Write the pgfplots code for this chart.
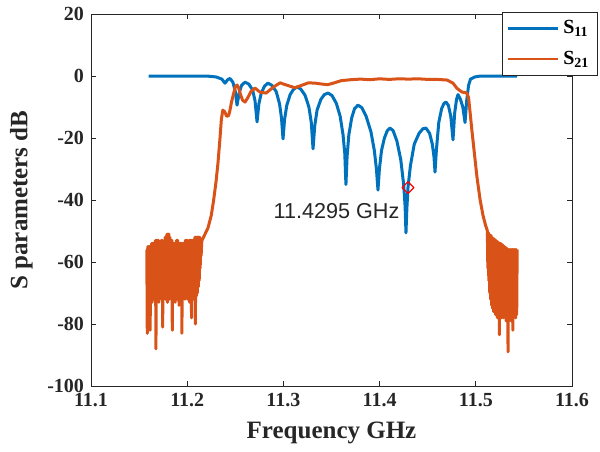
\documentclass[border=0pt]{standalone}
\usepackage{fontspec}
\setmainfont{Liberation Serif}
\newfontfamily\helv{Liberation Sans}
\usepackage{pgfplots}
\pgfplotsset{compat=1.18}
\usetikzlibrary{calc}
\definecolor{mblue}{RGB}{0,114,189}
\definecolor{mred}{RGB}{217,83,25}
\definecolor{axgray}{RGB}{38,38,38}

\begin{document}
\begin{tikzpicture}
\begin{axis}[
  scale only axis,
  width=240.5pt, height=186pt,
  xmin=11.1, xmax=11.6, ymin=-100, ymax=20,
  xtick={11.1,11.2,11.3,11.4,11.5,11.6},
  xticklabels={11.1,11.2,11.3,11.4,11.5,11.6},
  ytick={-100,-80,-60,-40,-20,0,20},
  yticklabels={-100,-80,-60,-40,-20,0,20},
  tick align=inside, major tick length=2.5pt,
  tick style={axgray, line width=0.5pt},
  axis line style={axgray, line width=0.5pt},
  tick label style={font=\bfseries\fontsize{10}{12}\selectfont, text=axgray},
  xlabel={Frequency GHz}, ylabel={S parameters dB},
  label style={font=\bfseries\fontsize{12.5}{15}\selectfont, text=axgray},
  xlabel style={at={(axis description cs:0.5,-0.1263)}, anchor=center},
  ylabel style={at={(axis description cs:-0.145,0.5)}, anchor=center},
  legend style={at={(axis description cs:1.054,1.005)}, anchor=north east,
    draw=axgray, line width=0.5pt, fill=white,
    font=\bfseries\fontsize{10}{12}\selectfont,
    inner xsep=2pt, inner ysep=2pt, row sep=3pt},
  legend cell align=left,
  legend image code/.code={\draw[#1, line width=1.3pt] (0pt,0pt) -- (25pt,0pt);},
  every axis plot/.append style={line join=round},
]
% S11
\addplot[mblue, line width=1.5pt] coordinates {
(11.1600,0) (11.2200,0) (11.2300,-0.3) (11.2360,-1.0) (11.2393,-2.3)
(11.2420,-1.2) (11.2445,-0.8) (11.2475,-2.0) (11.2500,-5) (11.2518,-9.4)
(11.2540,-5.5) (11.2565,-3.0) (11.2601,-2.0) (11.2640,-2.6) (11.2680,-4.5)
(11.2705,-8) (11.2726,-14.8) (11.2745,-9) (11.2770,-5.5) (11.2805,-3.2)
(11.2840,-2.3) (11.2880,-3.0) (11.2925,-5) (11.2960,-9) (11.2980,-13.5)
(11.2996,-20.3) (11.3012,-14) (11.3035,-9.5) (11.3070,-6) (11.3105,-4.3)
(11.3141,-3.5) (11.3180,-4.2) (11.3225,-6.2) (11.3265,-10) (11.3290,-15)
(11.3308,-23.5) (11.3326,-16) (11.3350,-11) (11.3390,-7.5) (11.3425,-6)
(11.3464,-5.5) (11.3505,-6.3) (11.3550,-8.8) (11.3590,-13) (11.3620,-19)
(11.3638,-25) (11.3650,-35) (11.3662,-26) (11.3680,-19) (11.3710,-13.5)
(11.3740,-10.5) (11.3775,-9.4) (11.3815,-10.2) (11.3860,-13) (11.3910,-18)
(11.3945,-24) (11.3967,-30) (11.3983,-36.8) (11.3998,-30) (11.4020,-24)
(11.4050,-20) (11.4080,-17.6) (11.4108,-16.8) (11.4140,-17.6) (11.4180,-21)
(11.4220,-27) (11.4250,-35) (11.4265,-42) (11.4274,-50.6) (11.4283,-43)
(11.4295,-36) (11.4320,-29) (11.4360,-22) (11.4410,-18.5) (11.4450,-17.0)
(11.4482,-16.8) (11.4520,-18.5) (11.4548,-22) (11.4565,-26) (11.4576,-31)
(11.4590,-24) (11.4615,-15) (11.4645,-10.5) (11.4670,-8.8) (11.4690,-8.4)
(11.4715,-9.5) (11.4740,-13) (11.4763,-20.6) (11.4780,-12) (11.4800,-7.5)
(11.4815,-6.0) (11.4840,-7.5) (11.4865,-10) (11.4888,-15) (11.4905,-8)
(11.4925,-3) (11.4945,-1) (11.4990,-0.3) (11.5050,0) (11.5430,0)
};
\addlegendentry{S\textsubscript{11}}
% S21
\addplot[mred, line width=1.5pt] coordinates {
(11.1580,-56) (11.1585,-83) (11.1590,-55) (11.1595,-72) (11.1600,-55) (11.1605,-70)
(11.1610,-55) (11.1615,-82) (11.1620,-55) (11.1625,-71) (11.1630,-54) (11.1635,-73)
(11.1640,-54) (11.1645,-70) (11.1650,-54) (11.1655,-72) (11.1660,-54) (11.1665,-71)
(11.1670,-53) (11.1675,-88) (11.1680,-53) (11.1685,-71) (11.1690,-53) (11.1695,-70)
(11.1700,-53) (11.1705,-73) (11.1710,-54) (11.1715,-72) (11.1720,-54) (11.1725,-70)
(11.1730,-53) (11.1735,-71) (11.1740,-53) (11.1745,-81) (11.1750,-55) (11.1755,-72)
(11.1760,-54) (11.1765,-70) (11.1770,-52) (11.1775,-72) (11.1780,-52) (11.1785,-70)
(11.1790,-51) (11.1795,-73) (11.1800,-51) (11.1805,-71) (11.1810,-51) (11.1815,-72)
(11.1820,-52) (11.1825,-70) (11.1830,-53) (11.1835,-71) (11.1840,-53) (11.1845,-82)
(11.1850,-54) (11.1855,-72) (11.1860,-54) (11.1865,-70) (11.1870,-54) (11.1875,-73)
(11.1880,-54) (11.1885,-71) (11.1890,-53) (11.1895,-72) (11.1900,-53) (11.1905,-70)
(11.1910,-54) (11.1915,-74) (11.1920,-54) (11.1925,-71) (11.1930,-54) (11.1935,-72)
(11.1940,-54) (11.1945,-83) (11.1950,-54) (11.1955,-71) (11.1960,-54) (11.1965,-70)
(11.1970,-54) (11.1975,-72) (11.1980,-53) (11.1985,-71) (11.1990,-53) (11.1995,-70)
(11.2000,-53) (11.2005,-72) (11.2010,-54) (11.2015,-71) (11.2020,-53) (11.2025,-73)
(11.2030,-53) (11.2035,-71) (11.2040,-53) (11.2045,-78) (11.2050,-53) (11.2055,-71)
(11.2060,-53) (11.2065,-72) (11.2070,-53) (11.2075,-70) (11.2080,-52) (11.2085,-80)
(11.2090,-52) (11.2095,-71) (11.2100,-52) (11.2105,-70) (11.2110,-52) (11.2115,-68)
(11.2120,-52) (11.2125,-66) (11.2130,-52) (11.2135,-62) (11.2140,-53) (11.2145,-58)
(11.2150,-54)
(11.2154,-53) (11.2185,-51) (11.2216,-49) (11.2250,-45) (11.2275,-40)
(11.2300,-34) (11.2320,-28) (11.2341,-20) (11.2355,-14) (11.2370,-11)
(11.2390,-11.5) (11.2410,-13) (11.2430,-12.8) (11.2445,-11) (11.2460,-8.5)
(11.2476,-6.5) (11.2500,-3.5) (11.2518,-2.9) (11.2535,-3.8) (11.2549,-5.5)
(11.2575,-7.8) (11.2601,-8.4) (11.2630,-7) (11.2663,-5) (11.2705,-3.9)
(11.2757,-5.2) (11.2820,-5.5) (11.2900,-3.5) (11.2965,-2.2) (11.3040,-3.0)
(11.3121,-3.8) (11.3190,-3.0) (11.3260,-2.2) (11.3330,-2.3) (11.3400,-2.6)
(11.3460,-2.8) (11.3530,-2.2) (11.3600,-1.5) (11.3700,-1.2) (11.3800,-1.0)
(11.3900,-1.2) (11.4000,-0.9) (11.4100,-1.1) (11.4200,-0.9) (11.4300,-1.0)
(11.4400,-0.9) (11.4500,-1.1) (11.4600,-1.1) (11.4701,-1.3) (11.4763,-2.3)
(11.4805,-4.0) (11.4857,-5.2) (11.4888,-5.3) (11.4909,-5.6) (11.4925,-7)
(11.4961,-18) (11.5012,-32.6) (11.5045,-40) (11.5075,-45) (11.5100,-48)
(11.5116,-49.5)
(11.5120,-50) (11.5125,-62) (11.5130,-50.5) (11.5135,-66) (11.5140,-51) (11.5145,-70)
(11.5150,-51.5) (11.5155,-72) (11.5160,-51.5) (11.5165,-74) (11.5170,-52) (11.5175,-75)
(11.5180,-52.5) (11.5185,-76) (11.5190,-52.5) (11.5195,-76) (11.5200,-53) (11.5205,-77)
(11.5210,-53) (11.5215,-76) (11.5220,-53.5) (11.5225,-78) (11.5230,-53.5) (11.5235,-77)
(11.5240,-54) (11.5245,-83.5) (11.5250,-54) (11.5255,-77) (11.5260,-54) (11.5265,-78)
(11.5270,-54.5) (11.5275,-77) (11.5280,-54.5) (11.5285,-78) (11.5290,-55) (11.5295,-77)
(11.5300,-55) (11.5305,-78) (11.5310,-55.5) (11.5315,-79) (11.5320,-55.5) (11.5325,-78)
(11.5330,-56) (11.5335,-89) (11.5340,-56) (11.5345,-79) (11.5350,-56) (11.5355,-78)
(11.5360,-56) (11.5365,-79) (11.5370,-56) (11.5375,-78) (11.5380,-56) (11.5385,-82)
(11.5390,-56) (11.5395,-78) (11.5400,-56) (11.5405,-77) (11.5410,-56) (11.5415,-78)
(11.5420,-56) (11.5425,-77) (11.5430,-56)
};
\addlegendentry{S\textsubscript{21}}
% data tip marker
\addplot[only marks, mark=square, mark size=2.1pt, forget plot,
  mark options={rotate=45, draw=red, fill=none, line width=0.6pt}]
  coordinates {(11.4295,-36)};
\node[font=\helv\fontsize{10.8}{13}\selectfont, text=axgray]
  at (axis cs:11.3552,-43.5) {11.4295 GHz};
\end{axis}
\path ($(current axis.south west)+(-45.5pt,-32.5pt)$) rectangle
      ($(current axis.north east)+(14pt,7pt)$);
\end{tikzpicture}
\end{document}
